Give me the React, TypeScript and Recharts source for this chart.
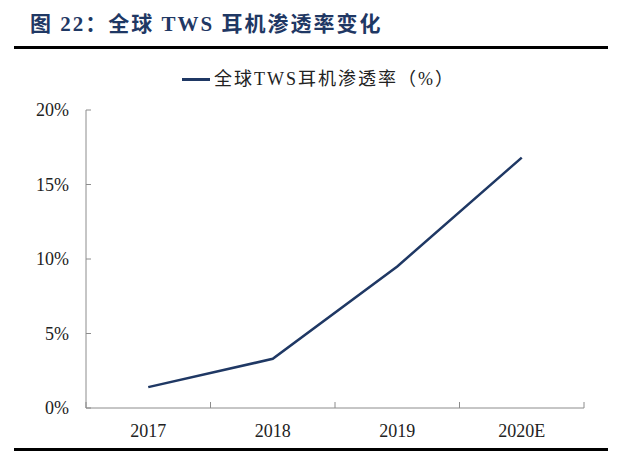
import React from 'react';
import { LineChart, Line, XAxis, YAxis } from 'recharts';

const years = ['2017', '2018', '2019', '2020E'];
const penetration = [1.4, 3.3, 9.5, 16.8];
const yTicks = [0, 5, 10, 15, 20];
const seriesName = '全球TWS耳机渗透率（%）';
const title = '图 22：全球 TWS 耳机渗透率变化';

const data = years.map((year, i) => ({ idx: i, year, value: penetration[i] }));
// band boundaries (for tick marks) and band centres (for labels)
const xTicks = years.flatMap((_, i) => [i - 0.5, i]).concat(years.length - 0.5);

const FONT = '"Liberation Serif", "Times New Roman", "Noto Sans CJK SC", serif';
const NAVY = '#1f3864';
const AXIS = '#8c8c8c';

function XTick(props: any) {
  const { x, y, payload } = props;
  const v = payload.value;
  if (Number.isInteger(v)) {
    return (
      <text x={x} y={y + 29} textAnchor="middle" fontSize={18} fill="#222" fontFamily={FONT}>
        {years[v]}
      </text>
    );
  }
  return <line x1={x} x2={x} y1={y} y2={y - 6} stroke={AXIS} />;
}

function YTick(props: any) {
  const { x, y, payload } = props;
  return (
    <g>
      <line x1={x} x2={x + 5} y1={y} y2={y} stroke={AXIS} />
      <text x={x - 17} y={y + 6} textAnchor="end" fontSize={18} fill="#222" fontFamily={FONT}>
        {payload.value + '%'}
      </text>
    </g>
  );
}

export default function App() {
  return (
    <div style={{ position: 'absolute', left: 0, top: 0, width: 637, height: 454, background: '#fff' }}>
      <div
        style={{
          position: 'absolute', left: 30, top: 11, fontSize: 21, fontWeight: 'bold', letterSpacing: 2,
          color: NAVY, fontFamily: FONT, whiteSpace: 'nowrap', lineHeight: '26px',
        }}
      >
        {title}
      </div>
      <div style={{ position: 'absolute', left: 14, top: 46, width: 594, height: 3, background: '#000' }} />
      <div style={{ position: 'absolute', left: 14, top: 448, width: 594, height: 3, background: '#000' }} />
      <div
        style={{
          position: 'absolute', left: 182, top: 68, display: 'flex', alignItems: 'center',
          fontFamily: FONT, fontSize: 18, color: '#222', whiteSpace: 'nowrap', lineHeight: '22px',
        }}
      >
        <span style={{ display: 'inline-block', width: 28, height: 3, background: NAVY, marginRight: 4 }} />
        <span style={{ letterSpacing: 2 }}>{seriesName}</span>
      </div>
      <div style={{ position: 'absolute', left: 0, top: 0 }}>
        <LineChart width={637} height={454} data={data} margin={{ top: 110, right: 53, bottom: 16, left: 26 }}>
          <XAxis
            type="number"
            dataKey="idx"
            domain={[-0.5, years.length - 0.5]}
            ticks={xTicks}
            interval={0}
            tickSize={0}
            tickMargin={0}
            tickLine={false}
            height={30}
            stroke={AXIS}
            tick={<XTick />}
          />
          <YAxis
            type="number"
            domain={[0, 20]}
            ticks={yTicks}
            interval={0}
            tickSize={0}
            tickMargin={0}
            tickLine={false}
            width={60}
            stroke={AXIS}
            tick={<YTick />}
          />
          <Line
            type="linear"
            dataKey="value"
            name={seriesName}
            stroke={NAVY}
            strokeWidth={2.5}
            dot={false}
            isAnimationActive={false}
          />
        </LineChart>
      </div>
    </div>
  );
}
